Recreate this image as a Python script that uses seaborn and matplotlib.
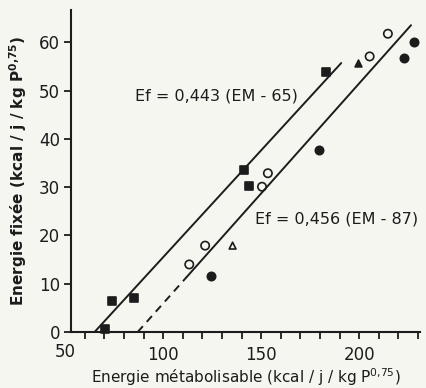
import numpy as np
import pandas as pd
import seaborn as sns
import matplotlib.pyplot as plt
from matplotlib import transforms

sns.set_theme(style="white")
plt.rcParams['font.family'] = ['DejaVu Sans']

INK = "#1c1c1c"
PAPER = "#f6f6f1"

# Measured points (EM, Ef) for each group of animals
sq_fill_em = [70.4, 73.8, 85.2, 141.0, 143.9, 183.0]
sq_fill_ef = [0.6, 6.5, 7.0, 33.5, 30.3, 53.9]

circ_open_em = [113.3, 121.4, 150.4, 153.4, 205.3, 214.6]
circ_open_ef = [14.0, 17.9, 30.1, 32.9, 57.1, 61.8]

circ_fill_em = [124.3, 179.7, 223.0, 228.0]
circ_fill_ef = [11.7, 37.8, 56.7, 60.0]

tri_open_em = [135.4]
tri_open_ef = [17.9]

tri_fill_em = [199.6]
tri_fill_ef = [55.8]

# Regression lines Ef = slope * (EM - threshold)
slopes = [0.443, 0.456]
thresholds = [65, 87]
line_end = [190.8, 226.4]
dash_end = [None, 112.0]

x_ticks_major = [100, 150, 200]
y_ticks = [0, 10, 20, 30, 40, 50, 60]

fig = plt.figure(figsize=(4.26, 3.88), dpi=100, facecolor=PAPER)
ax = fig.add_axes([0.1667, 0.1443, 0.8193, 0.8297])
ax.set_facecolor(PAPER)

groups = [
    (sq_fill_em, sq_fill_ef, "s", INK, 30),
    (circ_open_em, circ_open_ef, "o", "none", 36),
    (circ_fill_em, circ_fill_ef, "o", INK, 36),
    (tri_open_em, tri_open_ef, "^", "none", 24),
    (tri_fill_em, tri_fill_ef, "^", INK, 24),
]
for em, ef, mk, fc, s in groups:
    sns.scatterplot(x=em, y=ef, marker=mk, s=s, facecolor=fc, edgecolor=INK,
                    linewidth=1.2, ax=ax, clip_on=False, zorder=3)

for a, t, end, dend in zip(slopes, thresholds, line_end, dash_end):
    if dend is None:
        xs = np.array([t, end])
        sns.lineplot(x=xs, y=a * (xs - t), color=INK, lw=1.4, ax=ax)
    else:
        xd = np.array([t, dend])
        sns.lineplot(x=xd, y=a * (xd - t), color=INK, lw=1.4, ax=ax,
                     linestyle=(0, (4, 3)))
        xs = np.array([dend, end])
        sns.lineplot(x=xs, y=a * (xs - t), color=INK, lw=1.4, ax=ax)

ax.set_xlim(53, 231)
ax.set_ylim(0, 66.7)

minor = list(range(60, 231, 10))
ax.set_xticks(minor)
ax.set_xticklabels([str(v) if v in x_ticks_major else "" for v in minor])
ax.set_yticks(y_ticks)
ax.set_yticklabels([str(v) for v in y_ticks])
ax.tick_params(axis="both", direction="out", length=5, width=1.3,
               colors=INK, labelsize=12, left=True, bottom=True)
ax.tick_params(axis="x", pad=5)
ax.tick_params(axis="y", pad=3)

# first x value sits just left of the vertical axis
trans = transforms.blended_transform_factory(ax.transData, ax.transAxes)
ax.text(50, -0.035, "50", transform=trans, ha="center", va="top",
        fontsize=12, color=INK)

sns.despine(ax=ax)
for side in ("left", "bottom"):
    ax.spines[side].set_linewidth(1.5)
    ax.spines[side].set_color(INK)

unit = r"(kcal / j / kg P$^{\mathregular{0{,}75}}$)"
ax.set_xlabel("Energie métabolisable " + unit,
              fontsize=11, color=INK, labelpad=2)
ax.set_ylabel("Energie fixée " + unit,
              fontsize=11, color=INK, fontweight="semibold", labelpad=7)

ax.text(85.5, 48.9, "Ef = 0,443 (EM - 65)", fontsize=11.5, color=INK,
        va="center", ha="left")
ax.text(147, 23.4, "Ef = 0,456 (EM - 87)", fontsize=11.5, color=INK,
        va="center", ha="left")

fig.savefig("out.png", dpi=100, facecolor=PAPER)
